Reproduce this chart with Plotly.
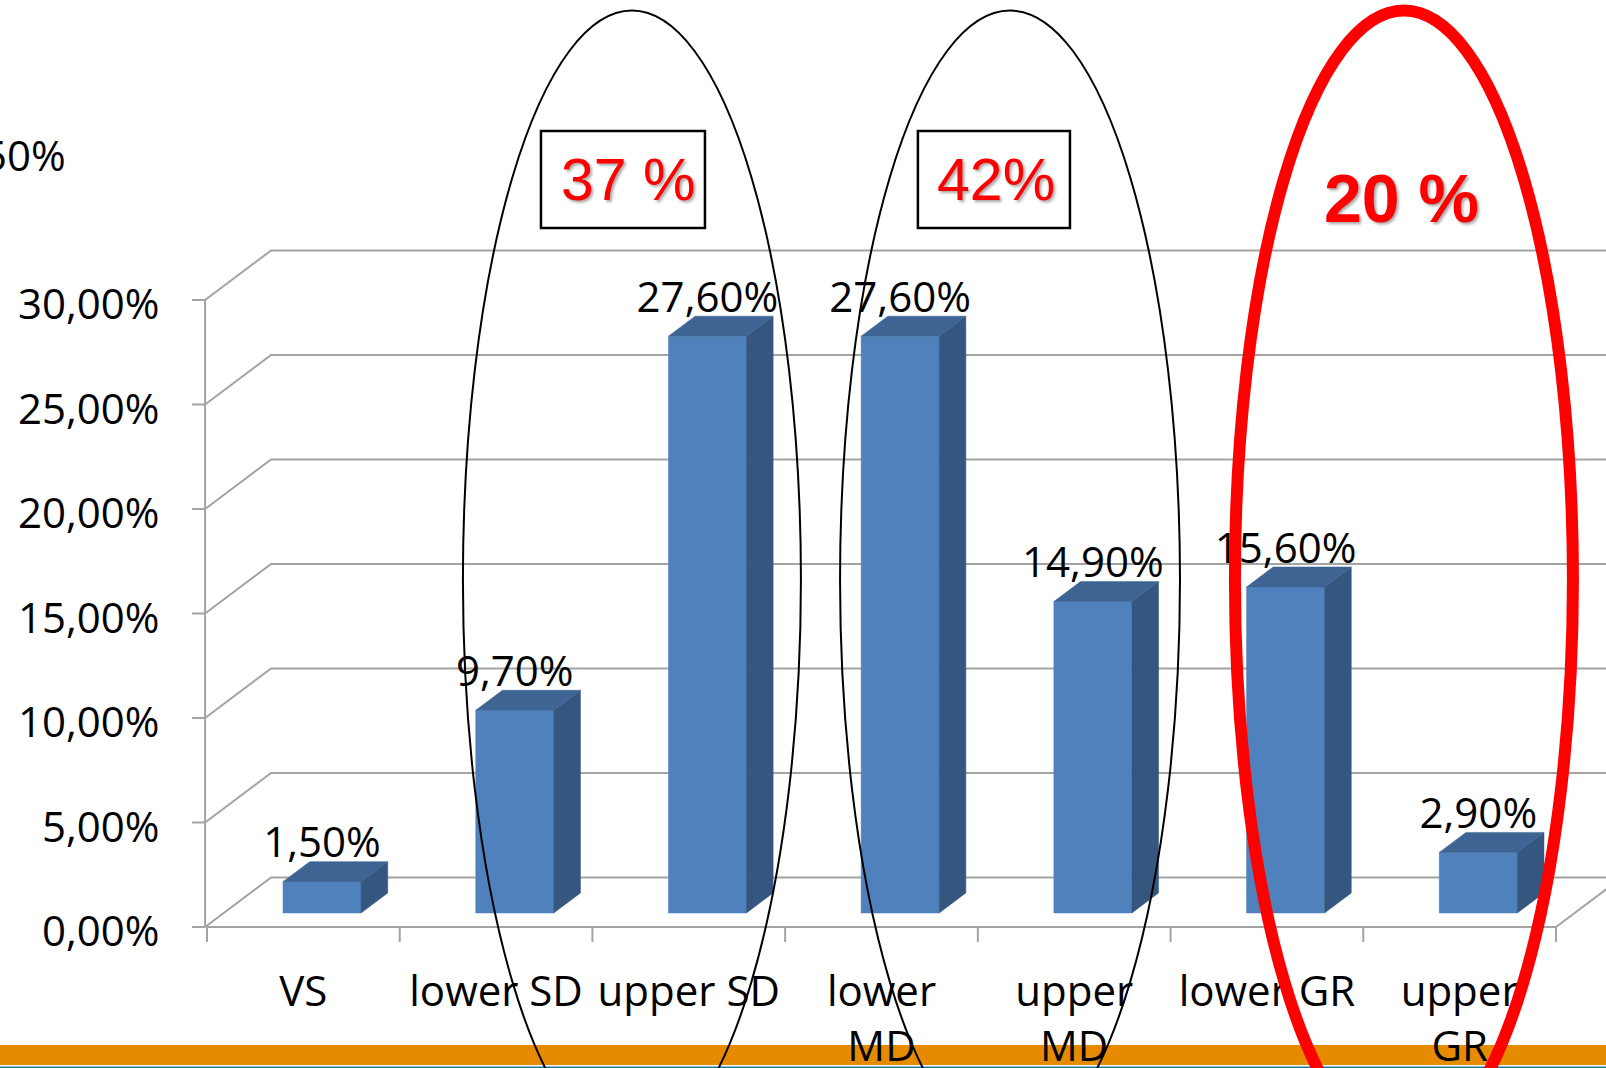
import plotly.graph_objects as go

# ---------------------------------------------------------------- data
categories = ["VS", "lower SD", "upper SD", "lower MD", "upper MD", "lower GR", "upper GR"]
category_tick_text = ["VS", "lower SD", "upper SD", "lower<br>MD", "upper<br>MD", "lower GR", "upper<br>GR"]
shares = [1.5, 9.7, 27.6, 27.6, 14.9, 15.6, 2.9]          # percent of total
y_ticks = [0, 5, 10, 15, 20, 25, 30]                       # percent
group_labels = ["37 %", "42%", "20 %"]                     # summed shares of the circled pairs


def pct(v):
    return f"{v:.2f}".replace(".", ",") + "%"


# ---------------------------------------------------------------- geometry of the pseudo-3D frame
W, H = 1606, 1068
ORIGIN_PX = (207, 927)          # pixel position of (category 0, 0 %)
CAT_PX = 192.71                 # pixels per category slot
PCT_PX = 20.9                   # pixels per percentage point

DX = 66 / CAT_PX                # depth offset of the back wall, category units
DY = 49.5 / PCT_PX              # depth offset of the back wall, percent units
D_FRONT, D_BACK = 0.283, 0.687  # depth of bar front / back faces (0 = front, 1 = wall)
HALF_W = 0.2025                 # half bar width, category units
AXIS_X = -0.01
N = len(categories)


def proj(c, v, d):
    """Oblique projection of (category, value, depth) onto the 2-D axes."""
    return c + d * DX, v + d * DY


fig = go.Figure()

# back wall gridlines with their diagonal on the left side wall
gx, gy = [], []
for t in y_ticks:
    x1, y1 = proj(AXIS_X, t, 1)
    gx += [AXIS_X, x1, N + DX, None]
    gy += [t, y1, y1, None]
# vertical value axis, its ticks, floor front edge, right floor edge, category ticks
gx += [AXIS_X, AXIS_X, None]
gy += [y_ticks[0], y_ticks[-1], None]
for t in y_ticks:
    gx += [AXIS_X - 13 / CAT_PX, AXIS_X, None]
    gy += [t, t, None]
gx += [0, N, None]
gy += [0, 0, None]
rx, ry = proj(N, 0, 1)
gx += [N, rx, None]
gy += [0, ry, None]
for c in range(N + 1):
    gx += [c, c, None]
    gy += [0, -15 / PCT_PX, None]

fig.add_trace(go.Scatter(x=gx, y=gy, mode="lines",
                         line=dict(color="#A3A3A3", width=2),
                         hoverinfo="skip", showlegend=False))

# bars: front, right side and top faces
fx, fy, sx, sy, tx, ty = [], [], [], [], [], []
for i, v in enumerate(shares):
    cc = i + 0.5
    l, r = cc - HALF_W, cc + HALF_W
    pts = [proj(l, 0, D_FRONT), proj(r, 0, D_FRONT), proj(r, v, D_FRONT), proj(l, v, D_FRONT)]
    fx += [p[0] for p in pts] + [pts[0][0], None]
    fy += [p[1] for p in pts] + [pts[0][1], None]
    pts = [proj(r, 0, D_FRONT), proj(r, 0, D_BACK), proj(r, v, D_BACK), proj(r, v, D_FRONT)]
    sx += [p[0] for p in pts] + [pts[0][0], None]
    sy += [p[1] for p in pts] + [pts[0][1], None]
    pts = [proj(l, v, D_FRONT), proj(r, v, D_FRONT), proj(r, v, D_BACK), proj(l, v, D_BACK)]
    tx += [p[0] for p in pts] + [pts[0][0], None]
    ty += [p[1] for p in pts] + [pts[0][1], None]

for xs, ys, col in [(fx, fy, "#4F81BD"), (sx, sy, "#34567F"), (tx, ty, "#3D6492")]:
    fig.add_trace(go.Scatter(x=xs, y=ys, mode="lines", fill="toself", fillcolor=col,
                             line=dict(color=col, width=0.5),
                             hoverinfo="skip", showlegend=False))

FONT = "Open Sans, Noto Sans, sans-serif"
FS = 42

# value labels above each bar
lab_x = [proj(i + 0.5, v, D_FRONT)[0] for i, v in enumerate(shares)]
lab_y = [proj(i + 0.5, v, D_BACK)[1] - 0.29 for i, v in enumerate(shares)]
fig.add_trace(go.Scatter(x=lab_x, y=lab_y, mode="text", text=[pct(v) for v in shares],
                         textposition="top center",
                         textfont=dict(family=FONT, size=FS, color="black"),
                         hoverinfo="skip", showlegend=False))

# category labels
fig.add_trace(go.Scatter(x=[i + 0.5 for i in range(N)], y=[-2.27] * N, mode="text",
                         text=category_tick_text, textposition="bottom center",
                         textfont=dict(family=FONT, size=FS, color="black"),
                         hoverinfo="skip", showlegend=False))

# value axis labels
fig.add_trace(go.Scatter(x=[-0.246] * len(y_ticks), y=[t - 0.43 for t in y_ticks], mode="text",
                         text=[pct(t) for t in y_ticks], textposition="middle left",
                         textfont=dict(family=FONT, size=FS, color="black"),
                         hoverinfo="skip", showlegend=False))

# group ellipses
ellipses = [
    dict(x0=1.328, x1=3.082, color="black", width=2),
    dict(x0=3.285, x1=5.049, color="black", width=2),
    dict(x0=5.334, x1=7.088, color="#FF0000", width=12),
]
for e in ellipses:
    fig.add_shape(type="circle", xref="x", yref="y", x0=e["x0"], x1=e["x1"],
                  y0=-10.6, y1=43.85, line=dict(color=e["color"], width=e["width"]),
                  layer="above")

# boxed group totals
boxes = [dict(x0=1.733, x1=2.584, cx=2.185), dict(x0=3.689, x1=4.478, cx=4.095)]
for b, txt in zip(boxes, group_labels[:2]):
    fig.add_shape(type="rect", xref="x", yref="y", x0=b["x0"], x1=b["x1"],
                  y0=33.44, y1=38.09, line=dict(color="black", width=2.5),
                  fillcolor="white", layer="above")
    fig.add_annotation(x=b["cx"], y=35.74, xref="x", yref="y", text=txt, showarrow=False,
                       xanchor="center", yanchor="middle",
                       font=dict(family="Liberation Sans, Arial, sans-serif", size=59,
                                 color="#FF0000", shadow="2px 2px 3px rgba(0,0,0,0.35)"))
fig.add_annotation(x=6.196, y=34.88, xref="x", yref="y", text="<b>" + group_labels[2] + "</b>",
                   showarrow=False, xanchor="center", yanchor="middle",
                   font=dict(family="Liberation Sans, Arial, sans-serif", size=68,
                             color="#FF0000", shadow="2px 2px 3px rgba(0,0,0,0.35)"))

# label running off the top-left edge
fig.add_annotation(x=68 / W, y=1 - 154 / H, xref="paper", yref="paper", text="50%",
                   showarrow=False, xanchor="right", yanchor="middle",
                   font=dict(family=FONT, size=FS, color="black"))

# footer band
fig.add_shape(type="rect", xref="paper", yref="paper", x0=0, x1=1,
              y0=1 - 1065 / H, y1=1 - 1045 / H, line=dict(width=0),
              fillcolor="#E68A00", layer="below")
fig.add_shape(type="rect", xref="paper", yref="paper", x0=0, x1=1,
              y0=0, y1=1 - 1066.5 / H, line=dict(width=0),
              fillcolor="#1C7D8C", layer="below")

fig.update_layout(
    width=W, height=H,
    margin=dict(l=0, r=0, t=0, b=0),
    paper_bgcolor="white", plot_bgcolor="white",
    xaxis=dict(range=[-ORIGIN_PX[0] / CAT_PX, (W - ORIGIN_PX[0]) / CAT_PX],
               visible=False, fixedrange=True),
    yaxis=dict(range=[-(H - ORIGIN_PX[1]) / PCT_PX, ORIGIN_PX[1] / PCT_PX],
               visible=False, fixedrange=True),
    showlegend=False,
)

fig.write_html("out.html", config={"displayModeBar": False})
